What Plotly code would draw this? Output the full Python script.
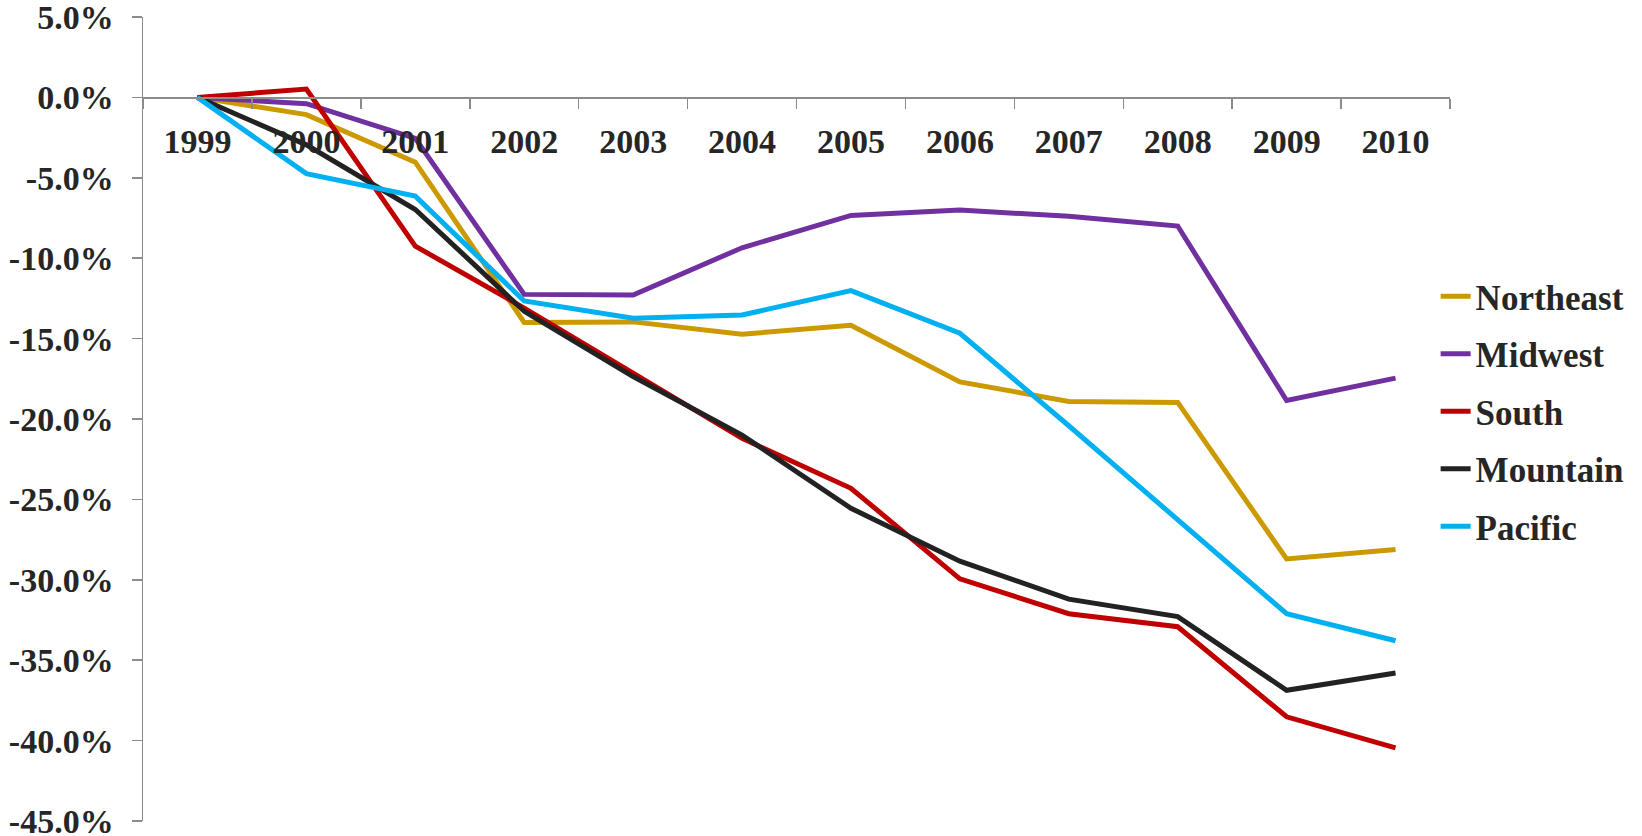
import plotly.graph_objects as go

years = ["1999", "2000", "2001", "2002", "2003", "2004", "2005", "2006", "2007", "2008", "2009", "2010"]

northeast = [0.0, -1.07, -4.03, -14.0, -13.96, -14.73, -14.17, -17.69, -18.91, -18.97, -28.7, -28.12]
midwest = [0.0, -0.39, -2.55, -12.25, -12.29, -9.35, -7.34, -7.01, -7.39, -8.0, -18.85, -17.46]
south = [0.0, 0.52, -9.25, -13.1, -17.15, -21.2, -24.31, -29.94, -32.11, -32.92, -38.52, -40.45]
mountain = [0.0, -2.95, -6.97, -13.3, -17.36, -21.0, -25.55, -28.84, -31.2, -32.29, -36.87, -35.8]
pacific = [0.0, -4.74, -6.14, -12.66, -13.74, -13.53, -12.02, -14.67, -20.42, -26.3, -32.11, -33.79]

series_names = ["Northeast", "Midwest", "South", "Mountain", "Pacific"]
series_values = [northeast, midwest, south, mountain, pacific]
series_colors = ["#CC9900", "#7030A0", "#C00000", "#222222", "#00B0F0"]

ytick_vals = [5, 0, -5, -10, -15, -20, -25, -30, -35, -40, -45]
ytick_text = ["5.0%", "0.0%", "-5.0%", "-10.0%", "-15.0%", "-20.0%", "-25.0%",
              "-30.0%", "-35.0%", "-40.0%", "-45.0%"]

FONT = "Liberation Serif"
TEXT_COLOR = "#262626"
AXIS_COLOR = "#8c8c8c"

fig = go.Figure()
for name, vals, col in zip(series_names, series_values, series_colors):
    fig.add_trace(go.Scatter(
        x=years, y=vals, name=name, mode="lines",
        line=dict(color=col, width=5),
        legendgroup=name,
        hoverinfo="skip",
    ))

fig.update_layout(
    width=1642, height=836, autosize=False,
    margin=dict(l=143, r=192, t=17, b=15, pad=0),
    paper_bgcolor="white", plot_bgcolor="white",
    font=dict(family=FONT, color=TEXT_COLOR, size=34, weight="bold"),
    showlegend=True,
    legend=dict(
        x=0.989, xanchor="left", y=0.689, yanchor="top",
        font=dict(family=FONT, size=35, color=TEXT_COLOR, weight="bold"),
        traceorder="grouped", tracegroupgap=9,
        bgcolor="rgba(0,0,0,0)", borderwidth=0,
    ),
    xaxis=dict(
        type="category", categoryorder="array", categoryarray=years,
        range=[-0.5, 11.5],
        anchor="free", position=0.9,
        showline=True, linecolor=AXIS_COLOR, linewidth=1.5,
        ticks="outside", ticklen=10, tickwidth=1.5, tickcolor=AXIS_COLOR,
        tickson="boundaries",
        showgrid=False, zeroline=False, automargin=False,
        tickfont=dict(family=FONT, size=34, color=TEXT_COLOR, weight="bold"),
        ticklabelstandoff=13,
        ticklabeloverflow="allow",
    ),
    yaxis=dict(
        range=[-45, 5],
        tickvals=ytick_vals, ticktext=ytick_text,
        showline=True, linecolor=AXIS_COLOR, linewidth=1.5,
        ticks="outside", ticklen=10, tickwidth=1.5, tickcolor=AXIS_COLOR,
        showgrid=False, zeroline=False, automargin=False,
        tickfont=dict(family=FONT, size=34, color=TEXT_COLOR, weight="bold"),
        ticklabelstandoff=11,
        ticklabeloverflow="allow",
    ),
)

fig.write_html(
    "out.html",
    config={"displayModeBar": False, "staticPlot": True},
    post_script="document.body.style.margin='0';document.body.style.overflow='hidden';",
)
